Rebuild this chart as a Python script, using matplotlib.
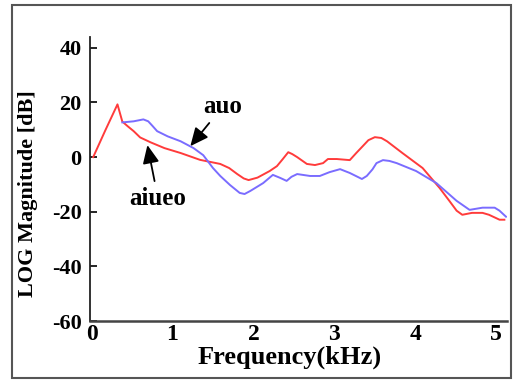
import matplotlib.pyplot as plt
from matplotlib.patches import Rectangle

plt.rcParams['font.family'] = ['Liberation Serif', 'DejaVu Serif']
plt.rcParams['font.weight'] = 'bold'
plt.rcParams['axes.labelweight'] = 'bold'
plt.rcParams['axes.unicode_minus'] = False

# red curve (aiueo)
aiueo_f = [0.02, 0.17, 0.32, 0.38, 0.45, 0.52, 0.60, 0.73, 0.90, 1.10, 1.34, 1.59, 1.70, 1.80, 1.88, 1.94,
           2.05, 2.20, 2.29, 2.36, 2.43, 2.48, 2.54, 2.66, 2.76, 2.86, 2.92, 3.03, 3.19, 3.27, 3.35, 3.42, 3.50,
           3.58, 3.65, 3.84, 4.09, 4.30, 4.42, 4.51, 4.58, 4.70, 4.83, 4.91, 5.04, 5.10]
aiueo_db = [0.0, 9.8, 19.3, 13.0, 11.2, 9.5, 7.2, 5.4, 3.3, 1.5, -1.0, -2.5, -4.0, -6.2, -7.8, -8.4,
            -7.5, -5.1, -3.3, -0.8, 1.8, 1.1, 0.0, -2.5, -2.9, -2.2, -0.7, -0.7, -1.1, 1.5, 4.0, 6.2, 7.3,
            7.0, 5.8, 1.5, -4.0, -11.3, -16.0, -19.6, -21.1, -20.4, -20.4, -21.1, -22.9, -22.9]

# blue curve (auo)
auo_f = [0.38, 0.52, 0.64, 0.70, 0.75, 0.81, 0.94, 1.10, 1.26, 1.38, 1.50, 1.59, 1.71, 1.83, 1.89,
         1.96, 2.12, 2.24, 2.33, 2.41, 2.47, 2.54, 2.70, 2.82, 2.94, 3.07, 3.19, 3.34,
         3.40, 3.47, 3.52, 3.60, 3.68, 3.77, 4.01, 4.26, 4.51, 4.67, 4.83, 4.98, 5.04, 5.12]
auo_db = [12.7, 13.1, 13.8, 13.1, 11.5, 9.5, 7.6, 5.8, 3.3, 0.7, -4.0, -6.9, -10.2, -13.1, -13.5,
          -12.4, -9.5, -6.5, -7.6, -8.7, -7.2, -6.2, -6.9, -6.9, -5.5, -4.4, -5.8, -8.0,
          -6.9, -4.5, -2.2, -1.1, -1.4, -2.2, -5.1, -9.5, -16.0, -19.3, -18.5, -18.5, -19.6, -21.8]

xticks = [0, 1, 2, 3, 4, 5]
yticks = [-60, -40, -20, 0, 20, 40]

fig = plt.figure(figsize=(5.14, 3.80), dpi=100)
ax = fig.add_axes([0.175, 0.155, 0.811, 0.748])

ax.plot(aiueo_f, aiueo_db, color='#ff3b3b', lw=1.4)
ax.plot(auo_f, auo_db, color='#7a6cff', lw=1.4)

ax.set_xlim(-0.02, 5.13)
ax.set_ylim(-60, 44)
ax.set_xticks(xticks)
ax.set_yticks(yticks)
ax.tick_params(axis='x', length=0, pad=2, labelsize=17)
ax.tick_params(axis='y', direction='in', length=5, width=1.2, pad=6, labelsize=16)

for s in ['top', 'right']:
    ax.spines[s].set_visible(False)
ax.spines['left'].set_color('#222222')
ax.spines['bottom'].set_color('#444444')
ax.spines['left'].set_linewidth(1.3)
ax.spines['bottom'].set_linewidth(1.8)

ax.set_xlabel('Frequency(kHz)', fontsize=19)
ax.xaxis.set_label_coords(0.48, -0.085)
ax.set_ylabel('LOG Magnitude [dB]', fontsize=16)
ax.yaxis.set_label_coords(-0.125, 0.45)

arrow = dict(arrowstyle='-|>,head_width=0.25,head_length=0.55', mutation_scale=20,
             color='black', lw=1.3, shrinkA=2, shrinkB=0)
ax.annotate('auo', xy=(1.22, 4.0), xytext=(1.62, 18.5), fontsize=18,
            ha='center', va='center', arrowprops=arrow)
ax.annotate('aiueo', xy=(0.69, 4.4), xytext=(0.82, -15.0), fontsize=18,
            ha='center', va='center', arrowprops=arrow)

fig.patches.append(Rectangle((0.023, 0.006), 0.971, 0.981, transform=fig.transFigure,
                             fill=False, edgecolor='#555555', lw=1.5))

fig.savefig('out.png', dpi=100)
